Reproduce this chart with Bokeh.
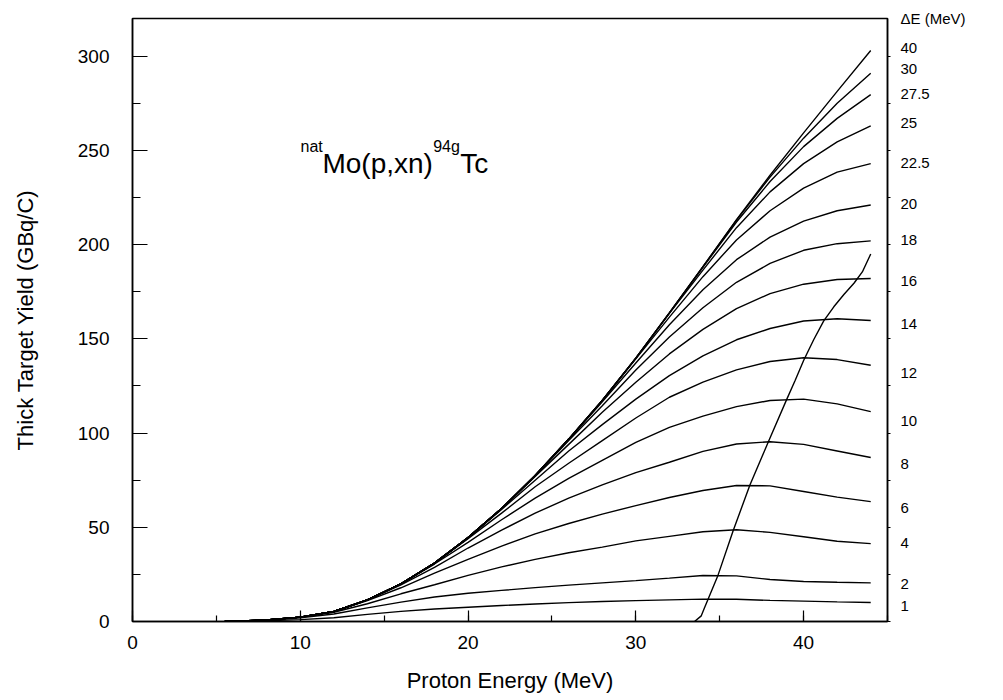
from bokeh.plotting import figure
from bokeh.models import Range1d, LinearAxis, SingleIntervalTicker, FixedTicker, Label, CustomJSTickFormatter
from bokeh.embed import file_html
from bokeh.resources import INLINE

# ---------------- data ----------------
energy = [5.5, 6, 8, 10, 12, 14, 16, 18, 20, 22, 24, 26, 28, 30, 32, 34, 36, 38, 40, 42, 44]

y_de40 = [0, 0.1, 0.8, 2.3, 5.3, 11.5, 20, 31, 44.5, 60, 77.5, 96.8, 117.3, 139.8, 163.8, 188.3, 213.3, 236.8, 259.3, 281.3, 303]
y_de30 = [0, 0.1, 0.8, 2.3, 5.3, 11.5, 20, 31, 44.5, 60, 77.5, 96.8, 117.3, 139.8, 163.8, 188.3, 213, 235.8, 256.5, 275, 291]
y_de27_5 = [0, 0.1, 0.8, 2.3, 5.3, 11.5, 20, 31, 44.5, 60, 77.5, 96.8, 117.3, 139.8, 163.8, 188, 212, 233.5, 252, 267, 279.6]
y_de25 = [0, 0.1, 0.8, 2.3, 5.3, 11.5, 20, 31, 44.5, 60, 77.5, 96.8, 117.3, 139.8, 163.5, 186.5, 209, 228, 243, 254.5, 263]
y_de22_5 = [0, 0.1, 0.8, 2.3, 5.3, 11.5, 20, 31, 44.5, 60, 77.5, 96.8, 117.3, 139.4, 161.5, 183, 202.5, 218, 230, 238.5, 243]
y_de20 = [0, 0.1, 0.8, 2.3, 5.3, 11.5, 20, 31, 44.5, 60, 77.5, 96.6, 116.6, 137.2, 157.5, 176, 192, 204, 212.5, 218, 221]
y_de18 = [0, 0.1, 0.8, 2.3, 5.3, 11.5, 20, 31, 44.5, 60, 77.4, 96, 114.5, 133.5, 151, 166.5, 180, 190, 197, 200.5, 202]
y_de16 = [0, 0.1, 0.8, 2.3, 5.3, 11.5, 20, 31, 44.5, 59.9, 77, 94, 111, 127, 142, 155, 166, 174, 179, 181.5, 182]
y_de14 = [0, 0.1, 0.8, 2.3, 5.3, 11.5, 20, 31, 44.4, 59.5, 75, 90.5, 104.5, 118, 130.5, 141, 149.5, 155.5, 159.5, 160.7, 159.7]
y_de12 = [0, 0.1, 0.8, 2.3, 5.3, 11.5, 20, 30.9, 44, 57.5, 71.5, 84, 96, 108, 119, 127, 133.5, 138, 140, 139, 136]
y_de10 = [0, 0.1, 0.8, 2.3, 5.3, 11.5, 19.9, 30.5, 42, 54, 65.5, 76, 85.5, 95, 103, 109, 114, 117.3, 118, 115.5, 111.4]
y_de8 = [0, 0.1, 0.8, 2.3, 5.3, 11.4, 19.5, 28.7, 39, 48.5, 57.5, 65.5, 72.5, 79, 84.5, 90.3, 94.2, 95.4, 94, 90.5, 87]
y_de6 = [0, 0.1, 0.8, 2.3, 5.2, 11.1, 17.9, 25.7, 33, 40, 46.5, 52, 57, 61.5, 65.8, 69.5, 72.2, 72, 69, 66, 63.6]
y_de4 = [0, 0.1, 0.8, 2.2, 4.9, 9.4, 14.7, 19.5, 24.5, 29, 33, 36.5, 39.5, 42.8, 45.2, 47.6, 48.7, 47.3, 45, 42.6, 41.3]
y_de2 = [0, 0.1, 0.7, 2, 4, 7.2, 10.3, 13, 15, 16.5, 18, 19.3, 20.5, 21.7, 23, 24.4, 24.2, 22.3, 21.2, 20.8, 20.5]
y_de1 = [0, 0.05, 0.4, 1, 2, 3.8, 5.4, 6.6, 7.6, 8.5, 9.3, 10, 10.6, 11.1, 11.5, 11.9, 11.8, 11.2, 10.8, 10.4, 10.1]

steep_energy = [33.5, 33.9, 34.1, 34.9, 35.8, 36.8, 37.9, 39.0, 39.5, 40.0, 40.6, 41.2, 41.8, 42.4, 43.0, 43.5, 44.0]
steep_yield = [0, 3, 7.4, 24.6, 48.2, 72.4, 95.4, 118, 128, 138.5, 149.5, 159.5, 167, 173.5, 179.5, 185.5, 195]

de_labels = ["40", "30", "27.5", "25", "22.5", "20", "18", "16", "14", "12", "10", "8", "6", "4", "2", "1"]
de_title = "\u0394E (MeV)"

# ---------------- figure ----------------
FONT = "Liberation Sans"
p = figure(frame_width=755, frame_height=603,
           x_range=Range1d(0, 45), y_range=Range1d(0, 320),
           min_border_left=132, min_border_right=90, min_border_top=18, min_border_bottom=70,
           output_backend="svg", toolbar_location=None)
p.background_fill_color = "white"
p.border_fill_color = "white"
p.xgrid.visible = False
p.ygrid.visible = False
p.outline_line_color = "black"
p.outline_line_width = 1.5

p.xaxis.ticker = SingleIntervalTicker(interval=10, num_minor_ticks=2)
p.yaxis.ticker = SingleIntervalTicker(interval=50, num_minor_ticks=2)

for ax in (p.xaxis[0], p.yaxis[0]):
    ax.axis_line_width = 1.5
    ax.axis_line_color = "black"
    ax.major_tick_line_color = "black"
    ax.minor_tick_line_color = "black"
    ax.major_tick_line_width = 1.2
    ax.minor_tick_line_width = 1.2
    ax.major_tick_out = 0
    ax.minor_tick_out = 0
    ax.major_label_text_font = FONT
    ax.major_label_text_font_size = "19px"
    ax.major_label_text_color = "black"
    ax.axis_label_text_font = FONT
    ax.axis_label_text_font_size = "22px"
    ax.axis_label_text_font_style = "normal"
    ax.axis_label_text_color = "black"

p.xaxis.major_tick_in = 11
p.xaxis.minor_tick_in = 6
p.yaxis.major_tick_in = 15
p.yaxis.minor_tick_in = 8
p.xaxis.major_label_standoff = 14
p.yaxis.major_label_standoff = 23
p.xaxis.axis_label = "Proton Energy (MeV)"
p.yaxis.axis_label = "Thick Target Yield (GBq/C)"
p.xaxis.axis_label_standoff = 16
p.yaxis.axis_label_standoff = 37

# right side: small outward ticks every 25 and the Delta-E labels
def y_of_pixel(py):
    return round((620.7 - py) / 1.8833, 2)

label_pix_y = [47, 68, 93, 122, 162, 203, 239, 280, 323, 372, 420, 463, 507, 542, 583, 605]
label_ys = [y_of_pixel(v) for v in label_pix_y] + [320]
label_texts = de_labels + [de_title]

right_axis = LinearAxis(
    ticker=FixedTicker(ticks=label_ys, minor_ticks=list(range(0, 301, 25))),
    formatter=CustomJSTickFormatter(args=dict(ys=label_ys, texts=label_texts), code="""
        let best = 0, bd = 1e9;
        for (let k = 0; k < ys.length; k++) {
            const d = Math.abs(ys[k] - tick);
            if (d < bd) { bd = d; best = k; }
        }
        return texts[best];
    """),
    axis_line_color="black", axis_line_width=1.5,
    major_tick_in=0, major_tick_out=0, minor_tick_out=3, minor_tick_in=0,
    minor_tick_line_color="black", minor_tick_line_width=1.2,
    major_label_standoff=10, major_label_text_font=FONT, major_label_text_font_size="15px",
    major_label_text_color="black", major_label_text_align="left")
p.add_layout(right_axis, "right")

curves = [y_de40, y_de30, y_de27_5, y_de25, y_de22_5, y_de20, y_de18, y_de16,
          y_de14, y_de12, y_de10, y_de8, y_de6, y_de4, y_de2, y_de1]
for ys in curves:
    p.line(energy, ys, line_color="black", line_width=1.4)

p.line(steep_energy, steep_yield, line_color="black", line_width=1.4)

# reaction annotation
def px2data(px, py):
    return (px - 131.7) / 16.81, (620.7 - py) / 1.8833

parts = [("nat", 300, 146, "16px"), ("Mo(p,xn)", 322, 163, "28px"),
         ("94g", 433, 146, "16px"), ("Tc", 460, 163, "28px")]
for txt, px, py, fs in parts:
    x, y = px2data(px, py)
    p.add_layout(Label(x=x, y=y, text=txt, text_font=FONT, text_font_size=fs,
                       text_baseline="alphabetic", text_align="left", text_color="black"))

open("out.html", "w").write(file_html(p, INLINE))
